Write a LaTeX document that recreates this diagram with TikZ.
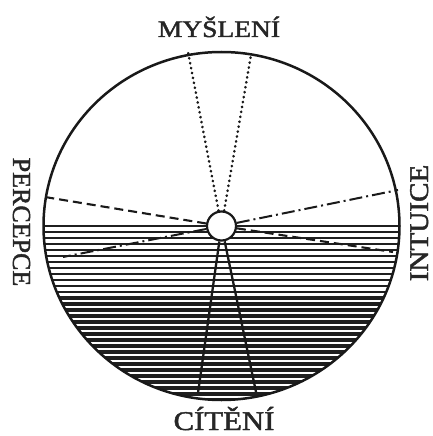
\documentclass[tikz,border=0pt]{standalone}
\usepackage{graphicx}
\usepackage{fontspec}
\setmainfont{Liberation Serif}
\newfontfamily\lblfont{Liberation Serif}[FakeBold=1.6]
\begin{document}
\begin{tikzpicture}[x=1pt,y=-1pt,
  inkc/.style={black!90},
  lbl/.style={inner sep=0pt, text=black!85, font=\lblfont},
  hatchline/.style={black!88},
  dotline/.style={black!90, line width=2.6pt, line cap=round, dash pattern=on 0.4pt off 4.6pt},
  dashline/.style={black!90, line width=2.1pt, dash pattern=on 9pt off 5pt},
  dashdotline/.style={black!90, line width=2pt, dash pattern=on 13pt off 4pt on 2pt off 4pt},
  solidline/.style={black!90, line width=2.3pt},
  hubstyle/.style={circle, draw=black!90, line width=2.2pt, fill=white, minimum size=29pt, inner sep=0pt}]
\useasboundingbox (0,0) rectangle (433,436);
\coordinate (c) at (221.5,226);
% hatching of the lower half
\begin{scope}
  \clip (c) ellipse [x radius=178pt, y radius=174pt];
  \foreach \i in {0,...,29}{
    \pgfmathsetmacro\yy{226+6*\i}
    \pgfmathsetmacro\ww{2.2+2.5*(\i/29)^1.2}
    \draw[hatchline, line width=\ww pt] (30,\yy) -- (415,\yy);
  }
\end{scope}
% hub
\node[hubstyle] (hub) at (c) {};
% end points on the rim
\coordinate (t1) at (188,52);
\coordinate (t2) at (251,55);
\coordinate (pl) at (45,197);
\coordinate (pr) at (393,252);
\coordinate (dr) at (398,190);
\coordinate (dl) at (63,257);
\coordinate (sl) at (198,393);
\coordinate (sr) at (256,392);
% radial lines
\draw[dotline] (hub) -- (t1);
\draw[dotline] (hub) -- (t2);
\draw[dashline] (hub) -- (pl);
\draw[dashline] (hub) -- (pr);
\draw[dashdotline] (hub) -- (dr);
\draw[dashdotline] (hub) -- (dl);
\draw[solidline] (hub) -- (sl);
\draw[solidline] (hub) -- (sr);
% outer circle
\draw[inkc, line width=2.5pt] (c) ellipse [x radius=178pt, y radius=174pt];
% labels
\node[lbl, anchor=base] (mys) at (219,37) {\fontsize{23.7}{26}\selectfont\scalebox{1.16}[1]{MYŠLENÍ}};
\node[lbl, anchor=base] (cit) at (224,430) {\fontsize{27}{30}\selectfont\scalebox{1.14}[1]{CÍTĚNÍ}};
\node[lbl, anchor=base, rotate=-90] (per) at (13,222) {\fontsize{26}{29}\selectfont\scalebox{1.0}[1]{PERCEPCE}};
\node[lbl, anchor=base, rotate=90] (int) at (428,223) {\fontsize{27}{30}\selectfont\scalebox{1.08}[1]{INTUICE}};
\end{tikzpicture}
\end{document}
